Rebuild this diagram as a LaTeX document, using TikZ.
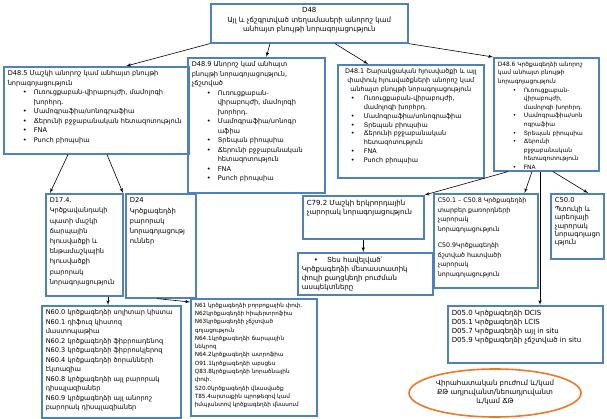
\documentclass[tikz,border=0pt]{standalone}
\usepackage{fontspec}
\setmainfont{DejaVu Sans}
\usepackage{tikz}
\usetikzlibrary{arrows}
\usetikzlibrary{shapes.geometric}

\definecolor{boxblue}{RGB}{79,129,189}
\definecolor{ovalorange}{RGB}{232,122,44}

\newcommand{\cb}[3]{\parbox[c][#2][t]{#1}{\raggedright #3}}
\newcommand{\bl}[1][15pt]{\hspace*{#1}\makebox[11pt][l]{•}}
\newcommand{\bk}[1][26pt]{\hspace*{#1}}

\begin{document}
\begin{tikzpicture}[x=1pt,y=-1pt]
  \tikzset{codebox/.style = {draw=boxblue,line width=1.6pt,inner sep=4pt,anchor=north west,font=\fontsize{6.6}{9.5}\selectfont}}
  \tikzset{smallbox/.style = {codebox,font=\fontsize{5.9}{8.6}\selectfont}}
  \tikzset{edge/.style = {-latex',line width=0.6pt}}

  \useasboundingbox (0,0) rectangle (607,419);

	\node[codebox,font=\fontsize{7}{9.5}\selectfont] (D48) at (210,3) {\cb{189pt}{31pt}{\centering D48\\Այլ և չճշգրտված տեղամասերի անորոշ կամ\\անհայտ բնույթի նորագոյացություն}};

	\node[codebox] (D485) at (3,66) {\cb{177pt}{79pt}{D48.5 Մաշկի անորոշ կամ անհայտ բնույթի\\նորագոյացություն\\
	  \bl Ուռուցքաբան-վիրաբույժի, մամոլոգի\\\bk խորհրդ.\\
	  \bl Մամոգրաֆիա/սոնոգրաֆիա\\
	  \bl Ճերունի բջջաբանական հետազոտություն\\
	  \bl FNA\\
	  \bl Punch բիոպսիա}};
	\node[codebox] (D489) at (187,57) {\cb{129pt}{127pt}{D48.9 Անորոշ կամ անհայտ\\բնույթի նորագոյացություն,\\չճշտված\\
	  \bl Ուռուցքաբան-\\\bk վիրաբույժի, մամոլոգի\\\bk խորհրդ.\\
	  \bl Մամոգրաֆիա/սոնոգր\\\bk աֆիա\\
	  \bl Տրեպան բիոպսիա\\
	  \bl Ճերունի բջջաբանական\\\bk հետազոտություն\\
	  \bl FNA\\
	  \bl Punch բիոպսիա}};
	\node[codebox,font=\fontsize{6.4}{8.9}\selectfont] (D481) at (337,64) {\cb{138pt}{105pt}{\centering D48.1 Շարակցական հյուսվածքի և այլ\\փափուկ հյուսվածքների անորոշ կամ\\անհայտ բնույթի նորագոյացություն\par\raggedright
	  \bl[9pt] Ուռուցքաբան-վիրաբույժի,\\\bk[20pt] մամոլոգի խորհրդ.\\
	  \bl[9pt] Մամոգրաֆիա/սոնոգրաֆիա\\
	  \bl[9pt] Տրեպան բիոպսիա\\
	  \bl[9pt] Ճերունի բջջաբանական\\\bk[20pt] հետազոտություն\\
	  \bl[9pt] FNA\\
	  \bl[9pt] Punch բիոպսիա}};
	\node[smallbox] (D486) at (493,57) {\cb{97pt}{105pt}{D48.6 Կրծքագեղձի անորոշ\\կամ անհայտ բնույթի\\նորագոյացություն\\
	  \bl Ուռուցքաբան-\\\bk վիրաբույժի,\\\bk մամոլոգի խորհրդ.\\
	  \bl Մամոգրաֆիա/սոն\\\bk ոգրաֆիա\\
	  \bl Տրեպան բիոպսիա\\
	  \bl Ճերունի\\\bk բջջաբանական\\\bk հետազոտություն\\
	  \bl FNA}};

	\node[codebox,font=\fontsize{6.6}{10.2}\selectfont] (D174) at (45,193) {\cb{69pt}{94pt}{D17.4.\\Կրծքավանդակի\\պատի մաշկի\\ճարպային\\հյուսվածքի և\\ենթամաշկային\\հյուսվածքի\\բարորակ\\նորագոյացություն}};
	\node[codebox,font=\fontsize{6.8}{10.2}\selectfont] (D24) at (125,193) {\cb{62pt}{96pt}{D24\\Կրծքագեղձի\\բարորակ\\նորագոյացությ\\ուններ}};
	\node[codebox,font=\fontsize{7}{9}\selectfont] (C792) at (302,195) {\cb{113pt}{35pt}{C79.2 Մաշկի երկրորդային\\չարորակ նորագոյացություն}};
	\node[codebox,font=\fontsize{7}{9}\selectfont] (Tes) at (297,252) {\cb{127pt}{34pt}{\bl[12pt] Տես հավելված՝\\Կրծքագեղձի մետաստատիկ\\փուլի քաղցկեղի բուժման\\ասպեկտները}};
	\node[codebox,font=\fontsize{6.3}{9.5}\selectfont] (C501) at (433,193) {\cb{96pt}{86pt}{C50.1 – C50.8 Կրծքագեղձի\\տարբեր քառորդների\\չարորակ\\նորագոյացություն\\[7pt]C50.9Կրծքագեղձի\\ճշտված հատվածի\\չարորակ\\նորագոյացություն}};
	\node[codebox,font=\fontsize{6.8}{8.4}\selectfont] (C500) at (550,193) {\cb{45pt}{57pt}{C50.0\\Պտուկի և\\արեոլայի\\չարորակ\\նորագոյացո\\ւթյուն}};

	\node[codebox] (N60) at (41,305) {\cb{131pt}{104pt}{N60.0 կրծքագեղձի սոլիտար կիստա\\N60.1 դիֆուզ կիստոզ\\մաստոպաթիա\\N60.2 կրծքագեղձի ֆիբրոադենոզ\\N60.3 կրծքագեղձի ֆիբրոսկլերոզ\\N60.4 կրծքագեղձի ծորանների\\էկտազիա\\N60.8 կրծքագեղձի այլ բարորակ\\դիսպլազիաներ\\N60.9 կրծքագեղձի այլ անորոշ\\բարորակ դիսպլազիաներ}};
	\node[smallbox,font=\fontsize{5.7}{8.3}\selectfont] (N61) at (190,298) {\cb{118pt}{109pt}{N61 կրծքագեղձի բորբոքային փոփ.\\N62կրծքագեղձի հիպերտրոֆիա\\N63կրծքագեղձի չճշտված\\գոյացություն\\N64.1կրծքագեղձի ճարպային\\նեկրոզ\\N64.2կրծքագեղձի ատրոֆիա\\O91.1կրծքագեղձի աբսցես\\Q83.8կրծքագեղձի նորածնային\\փոփ.\\S20.0կրծքագեղձի վնասվածք\\T85.4արտաքին պրոթեզով կամ\\իմպլանտով կրծքագեղձի վնասում}};
	\node[codebox,font=\fontsize{7}{9}\selectfont] (D05) at (447,305) {\cb{147pt}{49pt}{D05.0 Կրծքագեղձի DCIS\\D05.1 Կրծքագեղձի LCIS\\D05.7 Կրծքագեղձի այլ in situ\\D05.9 Կրծքագեղձի չճշտված in situ}};

	\node[draw=ovalorange,line width=1.6pt,ellipse,minimum width=172pt,minimum height=48pt,inner sep=0pt,align=center,font=\fontsize{7}{9}\selectfont] (Tx) at (495,393) {Վիրահատական բուժում և/կամ\\ՔԹ ադյուվանտ/նեոադյուվանտ\\և/կամ ՃԹ};

	\draw[edge] (D48.south west) -- ([xshift=30pt]D485.north);
	\draw[edge] ([xshift=60pt]D48.south west) -- ([xshift=10pt]D489.north);
	\draw[edge] ([xshift=125pt]D48.south west) -- ([xshift=31pt]D481.north west);
	\draw[edge] (D48.south east) -- (D486.north west);
	\draw[edge] ([xshift=65pt]D485.south west) -- ([xshift=5pt]D174.north west);
	\draw[edge] ([xshift=104pt]D485.south west) -- ([xshift=-2pt]D24.north west);
	\draw[edge] ([xshift=15pt]D486.south west) -- (C792.north east);
	\draw[edge] ([xshift=39pt]D486.south west) -- ([xshift=-14pt]C501.north east);
	\draw[edge] ([xshift=47pt]D486.south west) -- ([xshift=93pt]D05.north west);
	\draw[edge] ([xshift=60pt]D486.south west) -- ([xshift=38pt]C500.north west);
	\draw[edge] (C792.south) -- (C792.south |- Tes.north);
	\draw[edge] ([xshift=63pt]D174.south west) -- ([xshift=67pt]N60.north west);
	\draw[edge] ([xshift=32pt]D24.south west) -- ([yshift=-4pt]N61.north west);
\end{tikzpicture}
\end{document}
